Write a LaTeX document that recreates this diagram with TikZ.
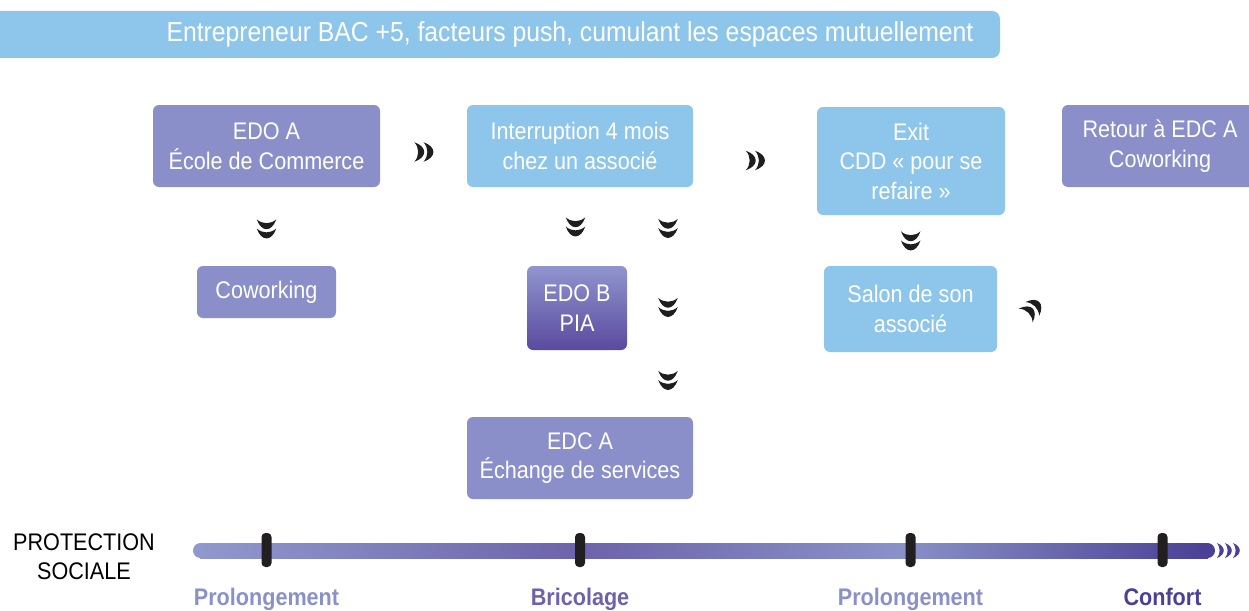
\documentclass[tikz,border=0pt]{standalone}
\usepackage{fontspec}
\setmainfont{Liberation Sans}[FakeStretch=0.9]
\usetikzlibrary{calc}
\definecolor{lightblue}{HTML}{8DC6EA}
\definecolor{purplebox}{HTML}{8A8FC9}
\definecolor{edobtop}{HTML}{9095CF}
\definecolor{edobbot}{HTML}{5A4A9E}
\definecolor{barA}{HTML}{9098CD}
\definecolor{barB}{HTML}{6D63AC}
\definecolor{barC}{HTML}{8A91C9}
\definecolor{barD}{HTML}{4A4095}
\definecolor{tickcol}{HTML}{231F20}
\definecolor{chevcol}{HTML}{1E1E1E}
\tikzset{
  box/.style={rounded corners=6pt, inner sep=0pt, align=center, text=white,
    font=\fontsize{24}{29.5}\selectfont},
  bluebox/.style={box, fill=lightblue},
  purplebox/.style={box, fill=purplebox},
  onechev/.pic={\fill (-7.5,-4) .. controls (-4,5) and (4,5) .. (7.5,-4)
      .. controls (3,-0.5) and (-3,-0.5) .. cycle;},
  chevpic/.pic={
    \fill (-8.5,-8) .. controls (-4.5,3.5) and (4.5,3.5) .. (8.5,-8)
      .. controls (3.5,-3.5) and (-3.5,-3.5) .. cycle;
    \fill (-8.5,0) .. controls (-4.5,11.5) and (4.5,11.5) .. (8.5,0)
      .. controls (3.5,4.5) and (-3.5,4.5) .. cycle;},
  bigchev/.style={scale=1.15},
  tickmark/.style={fill=tickcol, rounded corners=4pt},
  scalelabel/.style={font=\fontsize{24}{28}\selectfont\bfseries, anchor=base},
}
\begin{document}
\begin{tikzpicture}[x=1pt,y=-1pt]
\useasboundingbox (0,0) rectangle (1249,610);
% header
\fill[lightblue, rounded corners=8pt] (-30,11) rectangle (1000,58);
\node[text=white, font=\fontsize{27.5}{32}\selectfont] (head) at (570,34)
  {Entrepreneur BAC +5, facteurs push, cumulant les espaces mutuellement};
% boxes
\node[purplebox, minimum width=227pt, minimum height=82pt] (edoa) at (266.5,146)
  {EDO A\\École de Commerce};
\node[bluebox, minimum width=226pt, minimum height=82pt] (interr) at (580,146)
  {Interruption 4 mois\\chez un associé};
\node[bluebox, minimum width=188pt, minimum height=108pt] (exit) at (911,161)
  {Exit\\CDD « pour se\\refaire »};
\fill[purplebox, rounded corners=6pt] (1062,105) rectangle (1270,187);
\node[box] (retour) at (1160,146) {Retour à EDC A\\Coworking};
\node[purplebox, minimum width=139pt, minimum height=52pt] (cowork) at (266.5,292)
  {Coworking};
\node[box, top color=edobtop, bottom color=edobbot, minimum width=100pt,
  minimum height=84pt] (edob) at (577,308) {EDO B\\PIA};
\node[bluebox, minimum width=173pt, minimum height=86pt] (salon) at (910.5,309)
  {Salon de son\\associé};
\node[purplebox, minimum width=226pt, minimum height=82pt] (edca) at (580,458)
  {EDC A\\Échange de services};
% chevrons
\begin{scope}[chevcol]
\pic[rotate=90, bigchev] at ($(edoa.east)!0.5!(interr.west)+(0,6)$) {chevpic};
\pic[rotate=90, bigchev] at ($(interr.east)!0.5!(exit.west)+(0,7)$) {chevpic};
\pic[bigchev] at ($(edoa.south)!0.5!(cowork.north)+(0,2)$) {chevpic};
\pic[bigchev] at ($(interr.south)!0.5!(edob.north)+(-3,0)$) {chevpic};
\pic[bigchev] at (668,228) {chevpic};
\pic[bigchev] at (668,307) {chevpic};
\pic[bigchev] at (668,380) {chevpic};
\pic[bigchev] at ($(exit.south)!0.5!(salon.north)$) {chevpic};
\pic[rotate=135, bigchev] at ($(salon.east)+(35,0)$) {chevpic};
\end{scope}
% protection sociale scale
\node[align=center, font=\fontsize{24}{29}\selectfont] (prot) at (84,557)
  {PROTECTION\\SOCIALE};
\fill[barA] (200.5,550.5) circle (7.5);
\shade[left color=barA, right color=barB] (200,543) rectangle (580.5,558);
\shade[left color=barB, right color=barC] (580,543) rectangle (900.5,558);
\shade[left color=barC, right color=barD] (900,543) rectangle (1208,558);
\fill[barD] (1207.5,550.5) circle (7.5);
\begin{scope}[barD]
\pic[rotate=90] at (1221,550.5) {onechev};
\pic[rotate=90] at (1229,550.5) {onechev};
\pic[rotate=90] at (1237,550.5) {onechev};
\end{scope}
\coordinate (t1) at (266.5,550);
\coordinate (t2) at (580,550);
\coordinate (t3) at (910.5,550);
\coordinate (t4) at (1162.5,550);
\foreach \t in {t1,t2,t3,t4}{
  \fill[tickmark] ($(\t)+(-5,-17)$) rectangle ($(\t)+(5,17)$);
}
\node[scalelabel, text=barC] (l1) at (t1 |- 0,605) {Prolongement};
\node[scalelabel, text=barB] (l2) at (t2 |- 0,605) {Bricolage};
\node[scalelabel, text=barC] (l3) at (t3 |- 0,605) {Prolongement};
\node[scalelabel, text=barD] (l4) at (t4 |- 0,605) {Confort};
\end{tikzpicture}
\end{document}
